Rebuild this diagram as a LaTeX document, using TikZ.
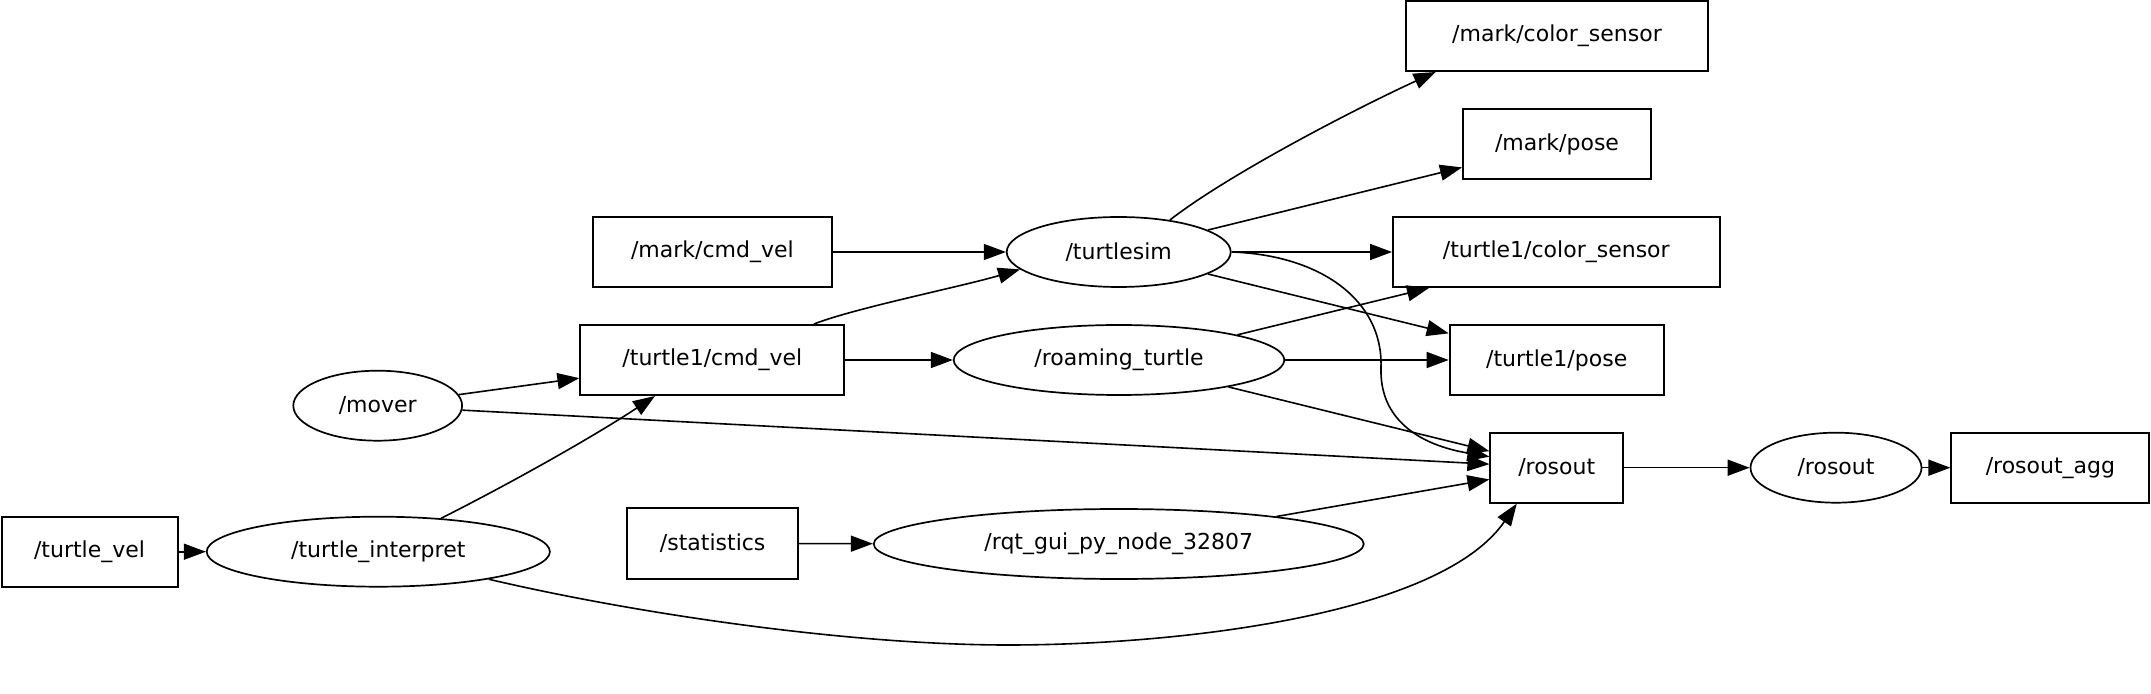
\documentclass[tikz,border=0pt]{standalone}
\usepackage{fontspec}
\setmainfont{DejaVu Sans}
\usetikzlibrary{arrows.meta,shapes.geometric,calc}
\begin{document}
\begin{tikzpicture}[x=0.5pt,y=-0.5pt,
  lbl/.style={font=\fontsize{11}{13}\selectfont},
  topic/.style={lbl,draw,line width=1pt,rectangle,inner sep=0pt,minimum height=35pt},
  rosnode/.style={lbl,draw,line width=0.85pt,ellipse,inner sep=0pt,minimum height=35pt},
  arr/.style={-{Triangle[length=11pt,width=8pt]},line width=0.8pt}]
\useasboundingbox (0,0) rectangle (2151,694);
% nodes
\node[topic,minimum width=151pt] (mcs) at (1557,36) {/mark/color\_sensor};
\node[topic,minimum width=94pt] (mpose) at (1557,144) {/mark/pose};
\node[topic,minimum width=119.4pt] (mcv) at (712.4,252) {/mark/cmd\_vel};
\node[rosnode,minimum width=112pt] (ts) at (1118.7,252) {/turtlesim};
\node[topic,minimum width=163.3pt] (t1cs) at (1556.3,252) {/turtle1/color\_sensor};
\node[topic,minimum width=132pt] (t1cmd) at (712.4,360) {/turtle1/cmd\_vel};
\node[rosnode,minimum width=165.3pt] (rt) at (1119,360) {/roaming\_turtle};
\node[topic,minimum width=107pt] (t1pose) at (1556.7,360) {/turtle1/pose};
\node[rosnode,minimum width=84.4pt] (mover) at (377.7,405.7) {/mover};
\node[topic,minimum width=66.3pt] (rb) at (1556.7,467.7) {/rosout};
\node[rosnode,minimum width=85.5pt] (re) at (1836,467.7) {/rosout};
\node[topic,minimum width=99pt] (agg) at (2050.4,467.7) {/rosout\_agg};
\node[topic,minimum width=88pt] (tv) at (89.5,551.7) {/turtle\_vel};
\node[rosnode,minimum width=171.6pt] (ti) at (378.3,551.7) {/turtle\_interpret};
\node[topic,minimum width=85.3pt] (stat) at (712.7,543.5) {/statistics};
\node[rosnode,minimum width=245pt] (rqt) at (1118.7,544) {/rqt\_gui\_py\_node\_32807};
% edges
\draw[arr] (mcv) -- (ts);
\draw[arr] ($(t1cmd.north west)+(234.6,0)$) .. controls (855,308) and (960,287) .. (ts.190);
\draw[arr] (t1cmd) -- (rt);
\draw[arr] (mover) -- (t1cmd);
\draw[arr] (mover) -- (rb);
\draw[arr] (tv) -- (ti);
\draw[arr] (ti.28) .. controls (515,481) and (596,435) .. ($(t1cmd.south west)+(75.6,0)$);
\draw[arr] (ti.-14.6) .. controls (637,614) and (850,645) .. (1008,645)
  .. controls (1180,645) and (1440,615) .. ($(rb.south)+(-40,0)$);
\draw[arr] (stat) -- (rqt);
\draw[arr] (rqt) -- (rb);
\draw[arr] (ts.32) .. controls (1229,174) and (1357,108) .. ($(mcs.south west)+(30.6,0)$);
\draw[arr] (ts) -- (mpose);
\draw[arr] (ts) -- (t1cs);
\draw[arr] (ts) -- (t1pose);
\draw[arr] (ts.east) .. controls (1320,255) and (1383,300) .. (1381,367)
  .. controls (1379,420) and (1420,445) .. ($(rb.west)+(0,-11)$);
\draw[arr] (rt.12) -- ($(t1cs.south west)+(37,0)$);
\draw[arr] (rt) -- (t1pose);
\draw[arr] (rt) -- (rb);
\draw[arr] (rb) -- (re);
\draw[arr] (re) -- (agg);
\end{tikzpicture}
\end{document}
